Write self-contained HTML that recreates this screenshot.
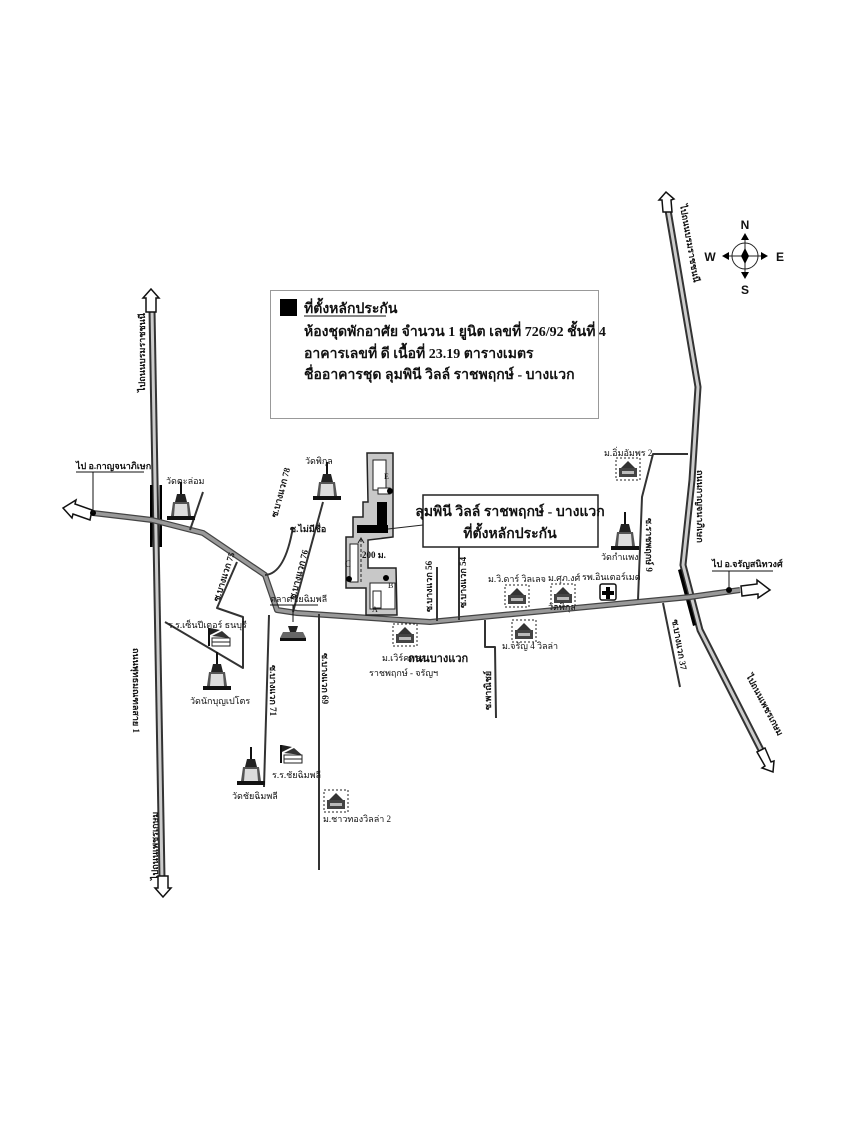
<!DOCTYPE html>
<html><head><meta charset="utf-8">
<style>
html,body{margin:0;padding:0;background:#fff;}
svg{display:block;}
text{font-family:"Liberation Serif","Noto Serif CJK SC","Noto Sans CJK SC",serif;fill:#111;}
.s{font-size:9px;}
.b{font-weight:bold;}
.sans{font-family:"Liberation Sans",sans-serif;}
</style></head><body>
<svg width="850" height="1147" viewBox="0 0 850 1147" xmlns="http://www.w3.org/2000/svg">
<defs>
<g id="stupa">
  <line x1="0" y1="-26" x2="0" y2="-14" stroke="#111" stroke-width="2"/>
  <path d="M-4,-14 L4,-14 L6,-6 L-6,-6 Z" fill="#222"/>
  <path d="M-8,-6 L8,-6 L10,8 L-10,8 Z" fill="#555"/>
  <path d="M-6,-4 L6,-4 L7,8 L-7,8 Z" fill="#ddd"/>
  <rect x="-14" y="8" width="28" height="4" fill="#111"/>
</g>
<g id="house">
  <rect x="-12" y="-10" width="24" height="22" fill="#fff" stroke="#222" stroke-width="1" stroke-dasharray="2,2"/>
  <path d="M-7,0 L0,-7 L7,0 Z" fill="#333"/>
  <rect x="-9" y="0" width="18" height="9" fill="#444"/>
  <rect x="-6" y="3" width="12" height="3" fill="#bbb"/>
</g>
<g id="school">
  <rect x="-10" y="-12" width="2" height="18" fill="#111"/>
  <path d="M-8,-12 L2,-10 L-8,-5 Z" fill="#222"/>
  <path d="M-6,-4 L4,-9 L12,-2 Z" fill="#333"/>
  <rect x="-6" y="-2" width="18" height="8" fill="#fff" stroke="#222"/>
  <line x1="-6" y1="2" x2="12" y2="2" stroke="#222"/>
</g>
</defs>

<rect x="270.5" y="290.5" width="328" height="128" fill="#fff" stroke="#999" stroke-width="1"/>
<rect x="280" y="299" width="17" height="17" fill="#000"/>
<text x="304" y="313" class="b" font-size="14">ที่ตั้งหลักประกัน</text>
<line x1="304" y1="316" x2="386" y2="316" stroke="#111" stroke-width="1"/>
<text x="304" y="336" class="b" font-size="14">ห้องชุดพักอาศัย จำนวน 1 ยูนิต เลขที่ 726/92 ชั้นที่ 4</text>
<text x="304" y="358" class="b" font-size="14">อาคารเลขที่ ดี   เนื้อที่ 23.19 ตารางเมตร</text>
<text x="304" y="379" class="b" font-size="14">ชื่ออาคารชุด ลุมพินี วิลล์ ราชพฤกษ์ - บางแวก</text>

<g transform="translate(745,256)">
  <circle r="13" fill="none" stroke="#222" stroke-width="1"/>
  <line x1="-22" y1="0" x2="22" y2="0" stroke="#222"/>
  <line x1="0" y1="-22" x2="0" y2="22" stroke="#222"/>
  <path d="M0,-8 L4,0 L0,8 L-4,0 Z" fill="#000"/>
  <path d="M0,-23 L-4,-16 L4,-16 Z M0,23 L-4,16 L4,16 Z M-23,0 L-16,-4 L-16,4 Z M23,0 L16,-4 L16,4 Z" fill="#000"/>
  <text x="0" y="-27" text-anchor="middle" font-size="12" class="b sans">N</text>
  <text x="0" y="38" text-anchor="middle" font-size="12" class="b sans">S</text>
  <text x="-35" y="5" text-anchor="middle" font-size="12" class="b sans">W</text>
  <text x="35" y="5" text-anchor="middle" font-size="12" class="b sans">E</text>
</g>

<g fill="none" stroke-linejoin="round">
  <path d="M152,310 L162,878" stroke="#333" stroke-width="7"/>
  <path d="M152,310 L162,878" stroke="#ccc" stroke-width="3"/>
  <path d="M668,210 L698,387 L692,480 L683,565 L700,630 L762,752" stroke="#333" stroke-width="7"/>
  <path d="M668,210 L698,387 L692,480 L683,565 L700,630 L762,752" stroke="#ccc" stroke-width="3"/>
</g>
<rect x="150" y="485" width="2.5" height="62" fill="#000"/>
<rect x="159.5" y="485" width="2.5" height="62" fill="#000"/>
<path d="M678,570 L681,569 L696,625 L693,626 Z" fill="#000"/>
<path d="M146,312 L146,298 L143,298 L151,289 L159,298 L156,298 L156,312 Z" fill="#fff" stroke="#111" stroke-width="1.5"/>
<path d="M158,876 L158,888 L155,888 L163,897 L171,888 L168,888 L168,876 Z" fill="#fff" stroke="#111" stroke-width="1.5"/>
<path d="M663,212 L662,200 L659,200 L666,192 L674,199 L671,200 L672,212 Z" fill="#fff" stroke="#111" stroke-width="1.5"/>
<path d="M757,752 L765,766 L762,768 L773,772 L774,761 L771,762 L765,748 Z" fill="#fff" stroke="#111" stroke-width="1.5"/>

<g fill="none" stroke-linejoin="round">
  <path d="M93,513 L152,520 L203,533 L265,575 L277,610 L297,613 L430,622 L690,597 L740,590" stroke="#444" stroke-width="6"/>
  <path d="M93,513 L152,520 L203,533 L265,575 L277,610 L297,613 L430,622 L690,597 L740,590" stroke="#999" stroke-width="3.5"/>
</g>
<path d="M92,510 L75,504 L76,500 L63,508 L72,518 L73,514 L90,520 Z" fill="#fff" stroke="#111" stroke-width="1.5"/>
<path d="M741,586 L757,584 L757,580 L770,590 L758,598 L758,594 L742,596 Z" fill="#fff" stroke="#111" stroke-width="1.5"/>
<circle cx="93" cy="513" r="3" fill="#000"/>
<circle cx="729" cy="590" r="3" fill="#000"/>
<line x1="93" y1="513" x2="93" y2="472" stroke="#111"/>
<line x1="729" y1="590" x2="729" y2="571" stroke="#111"/>
<text x="76" y="469" class="s b">ไป อ.กาญจนาภิเษก</text>
<line x1="76" y1="472" x2="144" y2="472" stroke="#111"/>
<text x="712" y="567" class="s b">ไป อ.จรัญสนิทวงศ์</text>
<line x1="712" y1="571" x2="773" y2="571" stroke="#111"/>

<g fill="none" stroke="#333" stroke-width="2" stroke-linejoin="round">
  <path d="M203,492 L190,530"/>
  <path d="M237,562 L217,608 L243,617 L243,668 L165,622"/>
  <path d="M265,575 Q285,574 293,527"/>
  <path d="M323,502 L293,612"/>
  <path d="M269,615 L264,787"/>
  <path d="M319,614 L319,870"/>
  <path d="M437,567 L437,621"/>
  <path d="M459,547 L459,620"/>
  <path d="M485,620 L485,647 L495,647 L496,718"/>
  <path d="M638,600 L642,497 L653,454 L688,454"/>
  <path d="M663,603 L680,687"/>
</g>

<path d="M367,453 L393,453 L393,537 L368,540 L368,568 L396,568 L397,615 L366,615 L366,588 L346,588 L346,537 L353,537 L353,517 L363,517 L363,502 L368,502 Z" fill="#c8c8c8" stroke="#222" stroke-width="1.5"/>
<rect x="373" y="460" width="13" height="30" fill="#fff" stroke="#222"/>
<rect x="378" y="488" width="12" height="6" fill="#fff" stroke="#222"/>
<circle cx="390" cy="491" r="3" fill="#000"/>
<text x="384" y="479" font-size="8">E</text>
<rect x="377" y="502" width="10" height="25" fill="#000"/>
<rect x="357" y="525" width="31" height="8" fill="#000"/>
<rect x="350" y="544" width="8" height="38" fill="#fff" stroke="#222"/>
<text x="345" y="567" font-size="9">C</text>
<circle cx="349" cy="579" r="3" fill="#000"/>
<circle cx="386" cy="578" r="3" fill="#000"/>
<line x1="361" y1="539" x2="361" y2="583" stroke="#222" stroke-dasharray="3,2"/>
<path d="M358,543 L361,538 L364,543" fill="none" stroke="#222"/>
<text x="362" y="558" font-size="9" class="b">200 ม.</text>
<rect x="370" y="583" width="25" height="26" fill="#fff" stroke="#222"/>
<rect x="373" y="591" width="8" height="17" fill="#fff" stroke="#222"/>
<text x="388" y="588" font-size="8">B</text>
<text x="372" y="612" font-size="8">A</text>
<line x1="388" y1="529" x2="423" y2="525" stroke="#222"/>

<rect x="423" y="495" width="175" height="52" fill="#fff" stroke="#222" stroke-width="1.5"/>
<text x="510" y="516" text-anchor="middle" class="b" font-size="14">ลุมพินี วิลล์ ราชพฤกษ์ - บางแวก</text>
<text x="510" y="538" text-anchor="middle" class="b" font-size="14">ที่ตั้งหลักประกัน</text>

<use href="#stupa" x="181" y="508"/>
<text x="166" y="484" class="s">วัดตะล่อม</text>
<use href="#stupa" x="327" y="488"/>
<text x="305" y="464" class="s">วัดพิกุล</text>
<use href="#stupa" x="217" y="678"/>
<text x="190" y="704" class="s">วัดนักบุญเปโตร</text>
<use href="#stupa" x="251" y="773"/>
<text x="232" y="799" class="s">วัดชัยฉิมพลี</text>
<use href="#stupa" x="625" y="538"/>
<text x="601" y="560" class="s">วัดกำแพง</text>

<use href="#house" x="628" y="468"/>
<text x="604" y="456" class="s">ม.อิ่มอัมพร 2</text>
<use href="#house" x="517" y="595"/>
<text x="488" y="582" class="s">ม.วิ.ดาร์ วิลเลจ</text>
<use href="#house" x="563" y="594"/>
<text x="548" y="581" class="s">ม.ศุภ.งศ์</text>
<text x="548" y="610" class="s">วัดพิกุล</text>
<use href="#house" x="524" y="630"/>
<text x="502" y="649" class="s">ม.จรัญ 4 วิลล่า</text>
<use href="#house" x="405" y="634"/>
<text x="382" y="661" class="s">ม.เวิร์คพลส</text>
<text x="369" y="676" class="s">ราชพฤกษ์ - จรัญฯ</text>
<use href="#house" x="336" y="800"/>
<text x="323" y="822" class="s">ม.ชาวทองวิลล่า 2</text>

<rect x="600" y="584" width="16" height="16" rx="2" fill="#fff" stroke="#111" stroke-width="1.5"/>
<path d="M606,587 h4 v4 h4 v4 h-4 v4 h-4 v-4 h-4 v-4 h4 Z" fill="#000"/>
<text x="582" y="580" class="s">รพ.อินเตอร์เมด</text>

<use href="#school" x="218" y="640"/>
<text x="168" y="628" class="s">ร.ร.เซ็นปีเตอร์ ธนบุรี</text>
<use href="#school" x="290" y="757"/>
<text x="272" y="778" class="s">ร.ร.ชัยฉิมพลี</text>
<g transform="translate(293,632)">
  <path d="M-5,-6 L5,-6 L3,0 L-3,0 Z" fill="#222"/>
  <path d="M-10,0 L10,0 L13,6 L-13,6 Z" fill="#666"/>
  <rect x="-13" y="6" width="26" height="3" fill="#111"/>
</g>
<text x="270" y="602" class="s">ตลาดชัยฉิมพลี</text>
<line x1="270" y1="605" x2="318" y2="605" stroke="#111"/>
<line x1="293" y1="605" x2="293" y2="622" stroke="#111"/>

<text x="408" y="662" class="b" font-size="11">ถนนบางแวก</text>

<g font-size="9" class="b">
  <text transform="translate(145,392) rotate(-90)">ไปถนนบรมราชชนนี</text>
  <text transform="translate(133,648) rotate(90)">ถนนพุทธมณฑลสาย 1</text>
  <text transform="translate(158,880) rotate(-90)">ไปถนนเพชรเกษม</text>
  <text transform="translate(680,205) rotate(80)">ไปถนนบรมราชชนนี</text>
  <text transform="translate(697,470) rotate(90)">ถนนกาญจนาภิเษก</text>
  <text transform="translate(746,676) rotate(62)">ไปถนนเพชรเกษม</text>
  <text transform="translate(277,518) rotate(-75)">ซ.บางแวก 78</text>
  <text transform="translate(295,600) rotate(-75)">ซ.บางแวก 76</text>
  <text transform="translate(219,602) rotate(-72)">ซ.บางแวก 75</text>
  <text transform="translate(270,665) rotate(90)">ซ.บางแวก 71</text>
  <text transform="translate(322,653) rotate(90)">ซ.บางแวก 69</text>
  <text transform="translate(432,612) rotate(-90)">ซ.บางแวก 56</text>
  <text transform="translate(466,608) rotate(-90)">ซ.บางแวก 54</text>
  <text transform="translate(491,710) rotate(-90)">ซ.พาณิชย์</text>
  <text transform="translate(646,518) rotate(90)">ซ.ราชพฤกษ์ 9</text>
  <text transform="translate(672,620) rotate(80)">ซ.บางแวก 37</text>
</g>
<text x="290" y="532" class="s b">ซ.ไม่มีชื่อ</text>
</svg>
</body></html>
